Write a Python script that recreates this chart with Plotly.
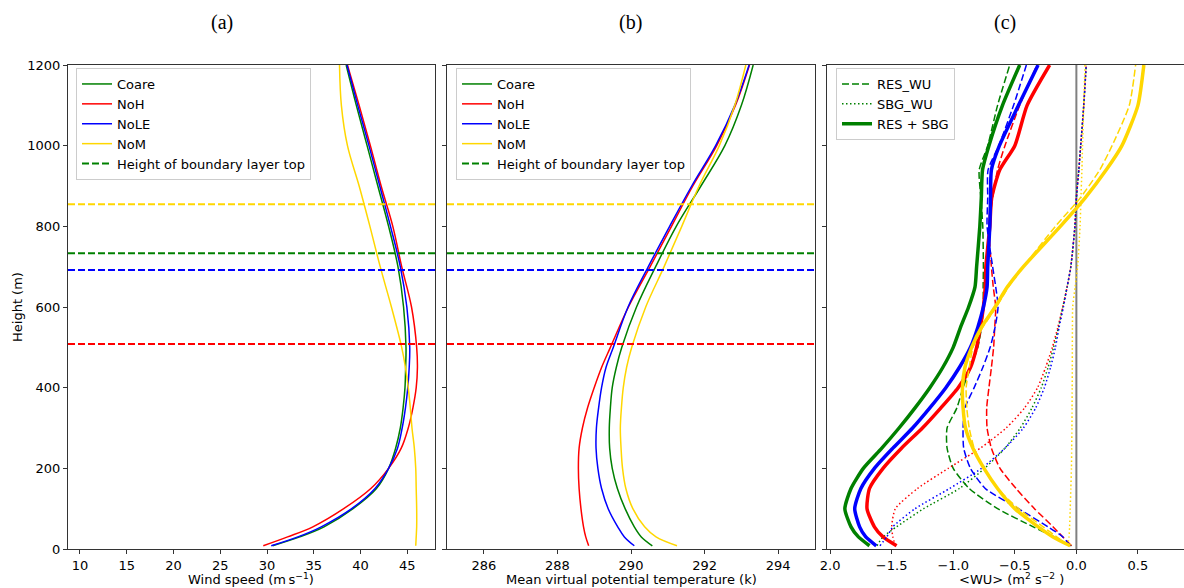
import plotly.graph_objects as go

# %%
# runs and their colours
runs = ["Coare", "NoH", "NoLE", "NoM"]
colors = ["green", "red", "blue", "gold"]

# boundary layer top for each run (m)
pbl_top = [733, 508, 692, 855]

# heights of the mean profiles, panels (a) and (b)
z_prof = [8, 30, 55, 100, 150, 200, 250, 300, 350, 400, 450, 500, 600, 700, 800, 900, 1000, 1100, 1200]

# wind speed (m/s)
wind_coare = [30.6, 33.5, 36.1, 39.2, 41.7, 43.0, 43.75, 44.25, 44.55, 44.75, 44.82, 44.86, 44.6, 44.0, 43.0, 41.85, 40.7, 39.55, 38.46]
wind_noh = [29.6, 32.2, 34.9, 38.2, 41.1, 43.0, 44.35, 45.1, 45.6, 45.95, 46.08, 46.0, 45.45, 44.4, 43.45, 42.2, 41.05, 39.85, 38.6]
wind_nole = [30.45, 33.3, 35.8, 39.05, 41.55, 43.0, 43.95, 44.45, 44.8, 45.05, 45.2, 45.26, 44.95, 44.25, 43.2, 42.05, 40.9, 39.7, 38.55]
wind_nom = [45.9, 45.95, 46.0, 46.0, 45.95, 45.9, 45.75, 45.5, 45.32, 45.1, 44.8, 44.4, 43.3, 42.1, 41.0, 39.85, 38.6, 37.95, 37.75]

# mean virtual potential temperature (K)
thv_coare = [290.58, 290.28, 290.09, 289.84, 289.63, 289.49, 289.42, 289.41, 289.44, 289.49, 289.6, 289.75, 290.15, 290.67, 291.23, 291.9, 292.55, 293.0, 293.32]
thv_noh = [288.85, 288.77, 288.71, 288.64, 288.59, 288.57, 288.59, 288.68, 288.82, 289.0, 289.2, 289.44, 289.93, 290.52, 291.1, 291.68, 292.33, 292.84, 293.22]
thv_nole = [290.09, 289.82, 289.64, 289.38, 289.2, 289.1, 289.05, 289.06, 289.12, 289.2, 289.32, 289.52, 289.92, 290.47, 291.05, 291.65, 292.3, 292.82, 293.21]
thv_nom = [291.25, 290.68, 290.37, 290.05, 289.86, 289.77, 289.73, 289.71, 289.74, 289.79, 289.88, 290.02, 290.4, 290.9, 291.38, 291.85, 292.4, 292.82, 293.12]

# heights of the momentum flux profiles, panel (c)
z_flux = [8, 30, 55, 100, 150, 200, 250, 300, 350, 400, 450, 500, 550, 600, 650, 700, 800, 870, 940, 1000, 1100, 1200]

# resolved flux <WU> (m2 s-2)
res_coare = [-0.04, -0.18, -0.35, -0.64, -0.87, -1.0, -1.05, -1.05, -0.97, -0.92, -0.86, -0.80, -0.77, -0.755, -0.757, -0.755, -0.76, -0.775, -0.789, -0.72, -0.64, -0.541]
res_noh = [-0.04, -0.11, -0.19, -0.34, -0.49, -0.62, -0.69, -0.725, -0.728, -0.71, -0.69, -0.672, -0.663, -0.655, -0.675, -0.69, -0.709, -0.68, -0.64, -0.58, -0.46, -0.32]
res_nole = [-0.05, -0.11, -0.23, -0.47, -0.74, -0.86, -0.915, -0.92, -0.905, -0.83, -0.76, -0.70, -0.66, -0.636, -0.655, -0.68, -0.725, -0.72, -0.717, -0.63, -0.51, -0.406]
res_nom = [-0.06, -0.16, -0.27, -0.47, -0.64, -0.75, -0.83, -0.87, -0.89, -0.895, -0.87, -0.84, -0.76, -0.65, -0.55, -0.43, -0.17, 0.03, 0.19, 0.29, 0.43, 0.481]

# subgrid flux
sbg_coare = [-1.62, -1.57, -1.46, -1.24, -0.95, -0.745, -0.58, -0.455, -0.36, -0.285, -0.23, -0.185, -0.145, -0.11, -0.075, -0.045, -0.012, 0.0, 0.02, 0.035, 0.06, 0.08]
sbg_noh = [-1.47, -1.49, -1.50, -1.47, -1.29, -1.04, -0.78, -0.57, -0.42, -0.315, -0.25, -0.195, -0.15, -0.11, -0.075, -0.045, -0.012, 0.0, 0.02, 0.035, 0.06, 0.08]
sbg_nole = [-1.595, -1.54, -1.49, -1.31, -1.03, -0.77, -0.58, -0.43, -0.33, -0.26, -0.21, -0.17, -0.14, -0.105, -0.075, -0.045, -0.012, 0.0, 0.02, 0.035, 0.06, 0.08]
sbg_nom = [-0.07, -0.06, -0.055, -0.05, -0.045, -0.04, -0.038, -0.036, -0.035, -0.034, -0.033, -0.033, -0.032, -0.03, -0.01, 0.01, 0.03, 0.037, 0.045, 0.05, 0.06, 0.07]

# resolved + subgrid
tot_coare = [-1.68, -1.77, -1.83, -1.88, -1.83, -1.73, -1.58, -1.44, -1.31, -1.19, -1.085, -1.0, -0.94, -0.875, -0.823, -0.81, -0.784, -0.772, -0.762, -0.71, -0.60, -0.46]
tot_noh = [-1.46, -1.57, -1.64, -1.70, -1.68, -1.57, -1.42, -1.25, -1.10, -0.96, -0.86, -0.81, -0.78, -0.755, -0.74, -0.735, -0.703, -0.688, -0.622, -0.50, -0.40, -0.217]
tot_nole = [-1.625, -1.71, -1.76, -1.80, -1.75, -1.64, -1.49, -1.33, -1.19, -1.06, -0.95, -0.86, -0.80, -0.755, -0.725, -0.72, -0.703, -0.697, -0.69, -0.625, -0.47, -0.311]
tot_nom = [-0.05, -0.19, -0.31, -0.50, -0.64, -0.75, -0.84, -0.90, -0.92, -0.925, -0.905, -0.85, -0.77, -0.66, -0.56, -0.43, -0.13, 0.07, 0.243, 0.37, 0.50, 0.548]

wind = [wind_coare, wind_noh, wind_nole, wind_nom]
thv = [thv_coare, thv_noh, thv_nole, thv_nom]
res = [res_coare, res_noh, res_nole, res_nom]
sbg = [sbg_coare, sbg_noh, sbg_nole, sbg_nom]
tot = [tot_coare, tot_noh, tot_nole, tot_nom]

# %%
FONT = "DejaVu Sans"
SPINE = "#333333"

fig = go.Figure()

for name, color, u, th in zip(runs, colors, wind, thv):
    fig.add_trace(
        go.Scatter(x=u, y=z_prof, mode="lines", name=name,
                   line=dict(color=color, width=1.5, shape="spline", smoothing=1.0),
                   xaxis="x", yaxis="y", legend="legend")
    )
    fig.add_trace(
        go.Scatter(x=th, y=z_prof, mode="lines", name=name,
                   line=dict(color=color, width=1.5, shape="spline", smoothing=1.0),
                   xaxis="x2", yaxis="y2", legend="legend2")
    )

for i, (color, r, s, t) in enumerate(zip(colors, res, sbg, tot)):
    first = i == 0
    fig.add_trace(
        go.Scatter(x=r, y=z_flux, mode="lines", name="RES_WU", showlegend=first,
                   line=dict(color=color, width=1.5, dash="7px,3px", shape="spline", smoothing=0.6),
                   xaxis="x3", yaxis="y3", legend="legend3")
    )
    fig.add_trace(
        go.Scatter(x=s, y=z_flux, mode="lines", name="SBG_WU", showlegend=first,
                   line=dict(color=color, width=1.5, dash="1.5px,2.5px", shape="spline", smoothing=0.6),
                   xaxis="x3", yaxis="y3", legend="legend3")
    )
    fig.add_trace(
        go.Scatter(x=t, y=z_flux, mode="lines", name="RES + SBG", showlegend=first,
                   line=dict(color=color, width=3.5, shape="spline", smoothing=0.6),
                   xaxis="x3", yaxis="y3", legend="legend3")
    )

# boundary layer top lines in (a) and (b)
for h, color in zip(pbl_top, colors):
    for xref, yref, leg in [("x domain", "y", "legend"), ("x2 domain", "y2", "legend2")]:
        fig.add_shape(
            type="line", xref=xref, x0=0, x1=1, yref=yref, y0=h, y1=h,
            line=dict(color=color, width=2, dash="7px,3px"),
            showlegend=(color == "green"), name="Height of boundary layer top",
            legend=leg, legendrank=2000,
        )

# zero line in (c)
fig.add_shape(type="line", xref="x3", x0=0, x1=0, yref="y3 domain", y0=0, y1=1,
              line=dict(color="gray", width=2), layer="below")

axis_common = dict(
    showgrid=False, zeroline=False, showline=True, linecolor=SPINE, linewidth=1,
    ticks="outside", ticklen=4, tickwidth=1, tickcolor=SPINE,
    tickfont=dict(family=FONT, size=13, color="black"),
)

W = 1116.0
fig.update_layout(
    width=1184, height=588,
    margin=dict(l=68, r=0, t=65, b=39),
    plot_bgcolor="white", paper_bgcolor="white",
    font=dict(family=FONT, size=13, color="black"),
    xaxis=dict(domain=[0, 367 / W], range=[8.72, 47.96], anchor="y", mirror=True,
               tickvals=[10, 15, 20, 25, 30, 35, 40, 45], **axis_common),
    xaxis2=dict(domain=[379 / W, 747 / W], range=[285, 295], anchor="y2", mirror=True,
                tickvals=[286, 288, 290, 292, 294], **axis_common),
    xaxis3=dict(domain=[759 / W, 1.0], range=[-2.025, 0.874], anchor="y3", mirror=True,
                tickvals=[-2.0, -1.5, -1.0, -0.5, 0.0, 0.5],
                ticktext=["2.0", "\u22121.5", "\u22121.0", "\u22120.5", "0.0", "0.5"], **axis_common),
    yaxis=dict(domain=[0, 1], range=[0, 1200], anchor="x", mirror=True,
               tickvals=[0, 200, 400, 600, 800, 1000, 1200], **axis_common),
    yaxis2=dict(domain=[0, 1], range=[0, 1200], anchor="x2", mirror=True, showticklabels=False,
                tickvals=[0, 200, 400, 600, 800, 1000, 1200], **axis_common),
    yaxis3=dict(domain=[0, 1], range=[0, 1200], anchor="x3", mirror=False, showticklabels=False,
                tickvals=[0, 200, 400, 600, 800, 1000, 1200], **axis_common),
)

legend_common = dict(
    yanchor="top", xanchor="left", y=1 - 3 / 484.0,
    bgcolor="rgba(255,255,255,0.8)", bordercolor="#cccccc", borderwidth=1,
    font=dict(family=FONT, size=13, color="black"), tracegroupgap=0,
)
fig.update_layout(
    legend=dict(x=8 / W, **legend_common),
    legend2=dict(x=388 / W, **legend_common),
    legend3=dict(x=768 / W, **legend_common),
)

# panel letters
for label, px in [("(a)", 222), ("(b)", 630), ("(c)", 1005)]:
    fig.add_annotation(text=label, xref="paper", yref="paper", x=(px - 68) / W, y=(549 - 22) / 484.0,
                       showarrow=False, xanchor="center", yanchor="middle",
                       font=dict(family="Liberation Serif", size=20, color="black"))

# axis titles
for text, px in [("Wind speed (m\u2009s<sup>\u22121</sup>)", 251),
                 ("Mean virtual potential temperature (k)", 631),
                 ("&lt;WU&gt; (m<sup>2</sup> s<sup>\u22122</sup> )", 1011)]:
    fig.add_annotation(text=text, xref="paper", yref="paper", x=(px - 68) / W, y=-30 / 484.0,
                       showarrow=False, xanchor="center", yanchor="middle",
                       font=dict(family=FONT, size=13, color="black"))

fig.add_annotation(text="Height (m)", xref="paper", yref="paper", x=(17 - 68) / W, y=0.5,
                   textangle=-90, showarrow=False, xanchor="center", yanchor="middle",
                   font=dict(family=FONT, size=13, color="black"))

# the page has a default body margin; drop it so the figure sits at the top-left
fig.write_html("out.html", config={"displayModeBar": False},
               post_script="document.body.style.margin='0';")
